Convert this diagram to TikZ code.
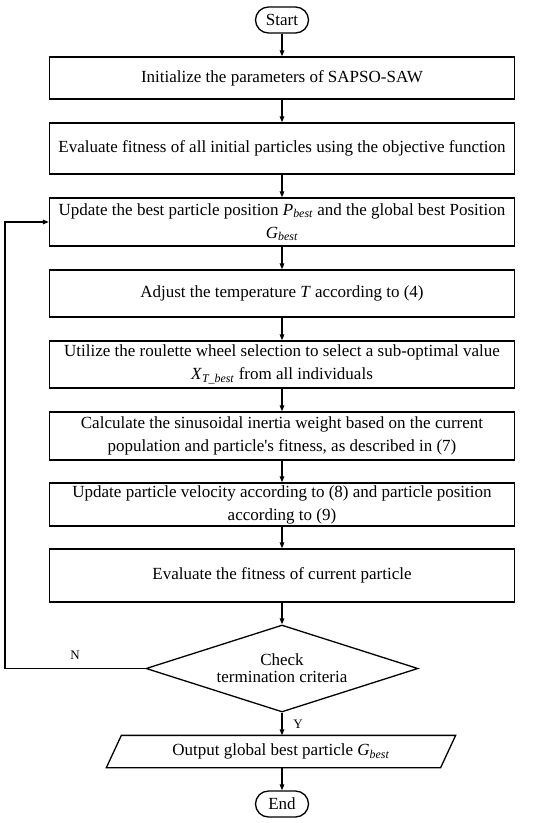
\documentclass[tikz,border=0pt]{standalone}
\usepackage{fontspec}
\setmainfont{Liberation Serif}
\usetikzlibrary{arrows.meta,shapes.geometric}
\newcommand{\mysub}[2]{\textit{#1}\textsubscript{\textit{#2}}}
\begin{document}
\begin{tikzpicture}[x=1pt,y=-1pt,
  line width=1.3pt,
  txt/.style={font=\fontsize{17}{23}\selectfont},
  box/.style={txt, draw, minimum width=465pt, align=center, inner sep=0pt},
  term/.style={txt, draw, rounded corners=13pt, minimum width=53pt, minimum height=26pt, inner sep=0pt},
  decision/.style={font=\fontsize{17}{17}\selectfont, draw, shape=diamond, aspect=3.1, minimum width=272pt, minimum height=87pt, inner sep=0pt, align=center},
  io/.style={txt, minimum width=333pt, minimum height=31pt, inner sep=0pt},
  arr/.style={-{Triangle[length=6pt,width=4.5pt]}},
  lbl/.style={font=\fontsize{13}{13}\selectfont}
]
\useasboundingbox (0,0) rectangle (550,823);
\node[term] (start) at (282,20) {Start};
\node[box, minimum height=42pt] (b1) at (282,78) {Initialize the parameters of SAPSO-SAW};
\node[box, minimum height=51pt] (b2) at (282,148.5) {Evaluate fitness of all initial particles using the objective function};
\node[box, minimum height=48pt] (b3) at (282,222) {Update the best particle position \mysub{P}{best} and the global best Position\\\mysub{G}{best}};
\node[box, minimum height=47pt] (b4) at (282,293.5) {Adjust the temperature \textit{T} according to (4)};
\node[box, minimum height=47pt] (b5) at (282,364.5) {Utilize the roulette wheel selection to select a sub-optimal value\\\mysub{X}{T\_best} from all individuals};
\node[box, minimum height=48pt] (b6) at (282,436) {Calculate the sinusoidal inertia weight based on the current\\population and particle\textquotesingle s fitness, as described in (7)};
\node[box, minimum height=43pt] (b7) at (282,504.5) {Update particle velocity according to (8) and particle position\\according to (9)};
\node[box, minimum height=53pt] (b8) at (282,575.5) {Evaluate the fitness of current particle};
\node[decision] (dec) at (282,668.5) {Check\\termination criteria};
\node[io] (out) at (281,751.5) {Output global best particle \mysub{G}{best}};
\draw ([xshift=-7.5pt]out.south west) -- ([xshift=7.5pt]out.north west) -- ([xshift=7.5pt]out.north east) -- ([xshift=-7.5pt]out.south east) -- cycle;
\node[term] (end) at (282,804) {End};

\draw[arr] (start) -- (b1);
\draw[arr] (b1) -- (b2);
\draw[arr] (b2) -- (b3);
\draw[arr] (b3) -- (b4);
\draw[arr] (b4) -- (b5);
\draw[arr] (b5) -- (b6);
\draw[arr] (b6) -- (b7);
\draw[arr] (b7) -- (b8);
\draw[arr] (b8) -- (dec);
\draw[arr] (dec.south) -- (out.north -| dec.south);
\draw[arr] (out.south -| end.north) -- (end);
\coordinate (fb) at (5,668.5);
\draw[arr] (dec.west) -- (fb) |- (b3.west);
\node[lbl] (nlab) at (75,655) {N};
\node[lbl] (ylab) at (298,724) {Y};
\end{tikzpicture}
\end{document}
